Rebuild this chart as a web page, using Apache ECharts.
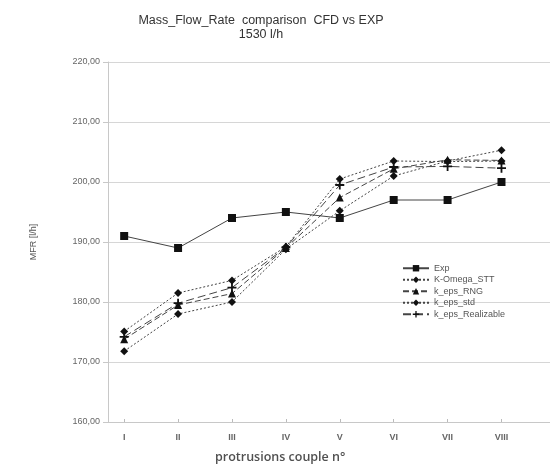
<!DOCTYPE html>
<html><head><meta charset="utf-8">
<script src="https://cdn.jsdelivr.net/npm/echarts@6/dist/echarts.min.js"></script>
<style>html,body{margin:0;padding:0;background:#fff}#c{width:550px;height:466px}</style>
</head><body><div id="c"></div>
<script>
var categories = ['I','II','III','IV','V','VI','VII','VIII'];
var exp = [191, 189, 194, 195, 194, 197, 197, 200];
var kOmegaSTT = [175.1, 181.5, 183.6, 189.2, 200.5, 203.5, 203.4, 203.5];
var kEpsRNG = [173.8, 179.5, 181.4, 189.0, 197.4, 202.2, 203.7, 203.6];
var kEpsStd = [171.8, 178.0, 180.0, 188.8, 195.2, 201.0, 203.5, 205.3];
var kEpsRealizable = [174.2, 179.8, 182.4, 189.1, 199.5, 202.5, 202.6, 202.3];
var yTicks = [160, 170, 180, 190, 200, 210, 220];

function pts(arr){ return arr.map(function(v,i){ return [i+1, v]; }); }
var catPos = categories.map(function(c,i){ return i+1; });
var plus = 'path://M4,0h2v4h4v2h-4v4h-2v-4h-4v-2h4z';
var lineCol = '#444', markCol = '#111';
function mk(name, data, symbol, size, type){
  return {name:name, type:'line', data:pts(data), symbol:symbol, symbolSize:size,
    lineStyle:{color:lineCol, width:1, type:type}, itemStyle:{color:markCol},
    emphasis:{disabled:true}, animation:false};
}
var chart = echarts.init(document.getElementById('c'), null, {renderer:'canvas'});
chart.setOption({
  backgroundColor:'#fff',
  animation:false,
  textStyle:{fontFamily:'Liberation Sans, Arial, sans-serif'},
  title:{text:'Mass_Flow_Rate  comparison  CFD vs EXP\n1530 l/h', left:256, top:9, textAlign:'center',
    textStyle:{fontSize:12.5, fontWeight:'normal', color:'#333', lineHeight:14}},
  grid:{left:108, top:62, right:0, bottom:44, containLabel:false},
  legend:{orient:'vertical', left:397, top:258, itemWidth:26, itemHeight:8, itemGap:1,
    textStyle:{fontSize:9, color:'#555', lineHeight:10.5},
    data:['Exp','K-Omega_STT','k_eps_RNG','k_eps_std','k_eps_Realizable']},
  xAxis:{type:'value', min:0.7, max:8.9,
    axisLine:{lineStyle:{color:'#c8c8c8'}},
    axisTick:{show:true, inside:true, length:3, customValues:catPos, lineStyle:{color:'#bbb'}},
    axisLabel:{customValues:catPos, margin:11, fontSize:9, fontWeight:'bold', color:'#666',
      formatter:function(v){ return categories[Math.round(v)-1] || ''; }},
    splitLine:{show:false}},
  yAxis:{type:'value', min:160, max:220, interval:10,
    name:'MFR [l/h]', nameLocation:'middle', nameGap:70, nameRotate:90,
    nameTextStyle:{fontSize:9, color:'#555'},
    axisLine:{show:true, lineStyle:{color:'#c8c8c8'}},
    axisTick:{show:true, length:5, lineStyle:{color:'#c8c8c8'}},
    axisLabel:{fontSize:9, color:'#666', margin:8,
      formatter:function(v){ return v.toFixed(2).replace('.', ','); }},
    splitLine:{lineStyle:{color:'#d6d6d6', width:1}}},
  graphic:[{type:'text', left:215, top:451,
    style:{text:'protrusions couple n°', fontSize:12.5, fill:'#505050', fontWeight:600,
      fontFamily:'Open Sans, sans-serif'}}],
  series:[
    mk('Exp', exp, 'rect', 8, 'solid'),
    mk('K-Omega_STT', kOmegaSTT, 'diamond', 8, [2,2]),
    mk('k_eps_RNG', kEpsRNG, 'triangle', 8, [6,3]),
    mk('k_eps_std', kEpsStd, 'diamond', 8, [2,2]),
    mk('k_eps_Realizable', kEpsRealizable, plus, 9, [8,4])
  ]
});
</script></body></html>
